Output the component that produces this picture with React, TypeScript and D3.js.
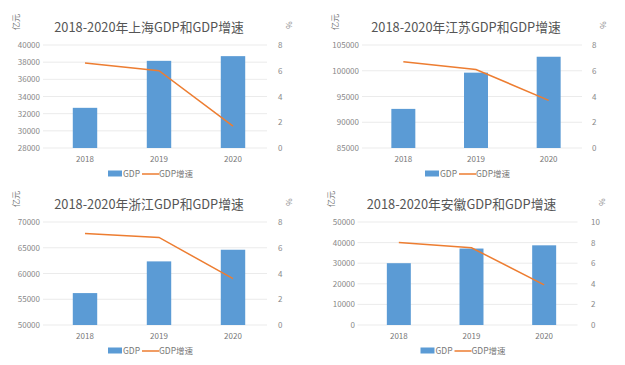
import React from 'react';
import * as d3 from 'd3';

const years = ['2018', '2019', '2020'];
const regions = ['上海', '江苏', '浙江', '安徽'];

const gdpShanghai = [32680, 38155, 38701];
const gdpJiangsu = [92595, 99631, 102719];
const gdpZhejiang = [56197, 62352, 64613];
const gdpAnhui = [30007, 37114, 38681];

const growthShanghai = [6.6, 6.0, 1.7];
const growthJiangsu = [6.7, 6.1, 3.7];
const growthZhejiang = [7.1, 6.8, 3.6];
const growthAnhui = [8.0, 7.5, 3.9];

// left axis [min, max, step], right axis [max, step]
const leftAxes = [[28000, 40000, 2000], [85000, 105000, 5000], [50000, 70000, 5000], [0, 50000, 10000]];
const rightAxes = [[8, 2], [8, 2], [8, 2], [10, 2]];

const gdpAll = [gdpShanghai, gdpJiangsu, gdpZhejiang, gdpAnhui];
const growthAll = [growthShanghai, growthJiangsu, growthZhejiang, growthAnhui];

// panel frames: x range of the bands, left label edge, right label x, y offset
const frames = [
  { x0: 48, x1: 270, lx: 40, rx: 278, dy: 0 },
  { x0: 367, x1: 585, lx: 359, rx: 592, dy: 0 },
  { x0: 48, x1: 270, lx: 40, rx: 278, dy: 177 },
  { x0: 362.5, x1: 580.5, lx: 355, rx: 591, dy: 177 },
];

const BLUE = '#5b9bd5';
const ORANGE = '#ed7d31';
const FONT = '"Noto Sans CJK SC", "Noto Sans", sans-serif';

function Panel({ i }: { i: number }) {
  const f = frames[i];
  const [lmin, lmax, lstep] = leftAxes[i];
  const [rmax, rstep] = rightAxes[i];
  const top = 45 + f.dy, bottom = 148 + f.dy;

  const x = d3.scaleBand().domain(years).range([f.x0, f.x1]).paddingInner(0.67).paddingOuter(0.335);
  const y = d3.scaleLinear().domain([lmin, lmax]).range([bottom, top]);
  const y2 = d3.scaleLinear().domain([0, rmax]).range([bottom, top]);
  const lt = d3.range(lmin, lmax + 1, lstep);
  const rt = d3.range(0, rmax + 0.01, rstep);
  const cx = (d: string) => (x(d) as number) + x.bandwidth() / 2;
  const line = d3.line<number>().x((_, k) => cx(years[k])).y(d => y2(d));
  const mid = (f.x0 + f.x1) / 2;

  return (
    <g fontFamily={FONT}>
      <text x={mid - 10} y={32 + f.dy} textAnchor="middle" fontSize={12.8} fill="#555">
        2018-2020年{regions[i]}GDP和GDP增速
      </text>
      <text transform={`translate(${f.lx - 21},${22 + f.dy}) rotate(-90)`} textAnchor="middle" fontSize={8} fill="#777">亿元</text>
      <text transform={`translate(${f.rx + 14},${25 + f.dy}) rotate(-90)`} textAnchor="middle" fontSize={8} fill="#888">%</text>
      {lt.map(t => (
        <line key={'g' + t} x1={f.x0 - 5} x2={f.x1 - 3} y1={y(t)} y2={y(t)} stroke="#e6e6e6" strokeWidth={0.8} />
      ))}
      {lt.map(t => (
        <text key={'l' + t} x={f.lx} y={y(t) + 3} textAnchor="end" fontSize={8} fill="#888">{t}</text>
      ))}
      {rt.map(t => (
        <text key={'r' + t} x={f.rx} y={y2(t) + 3} textAnchor="start" fontSize={8} fill="#888">{t}</text>
      ))}
      {gdpAll[i].map((v, k) => (
        <rect key={'b' + k} x={x(years[k])} y={y(v)} width={x.bandwidth()} height={bottom - y(v)} fill={BLUE} />
      ))}
      <path d={line(growthAll[i]) || ''} fill="none" stroke={ORANGE} strokeWidth={1.5} />
      {years.map(yr => (
        <text key={yr} x={cx(yr)} y={162 + f.dy} textAnchor="middle" fontSize={8} fill="#777">{yr}</text>
      ))}
      <g transform={`translate(${mid - 51},${174 + f.dy})`}>
        <rect x={0} y={-3.5} width={14} height={6} fill={BLUE} />
        <text x={15} y={3} fontSize={8.5} fill="#777">GDP</text>
        <line x1={34} x2={51} y1={0} y2={0} stroke={ORANGE} strokeWidth={1.5} />
        <text x={51} y={3} fontSize={8.5} fill="#777">GDP增速</text>
      </g>
    </g>
  );
}

export default function App() {
  return (
    <svg width={625} height={365} style={{ position: 'absolute', left: 0, top: 0, background: '#fff' }}>
      {regions.map((_, i) => <Panel key={i} i={i} />)}
    </svg>
  );
}
